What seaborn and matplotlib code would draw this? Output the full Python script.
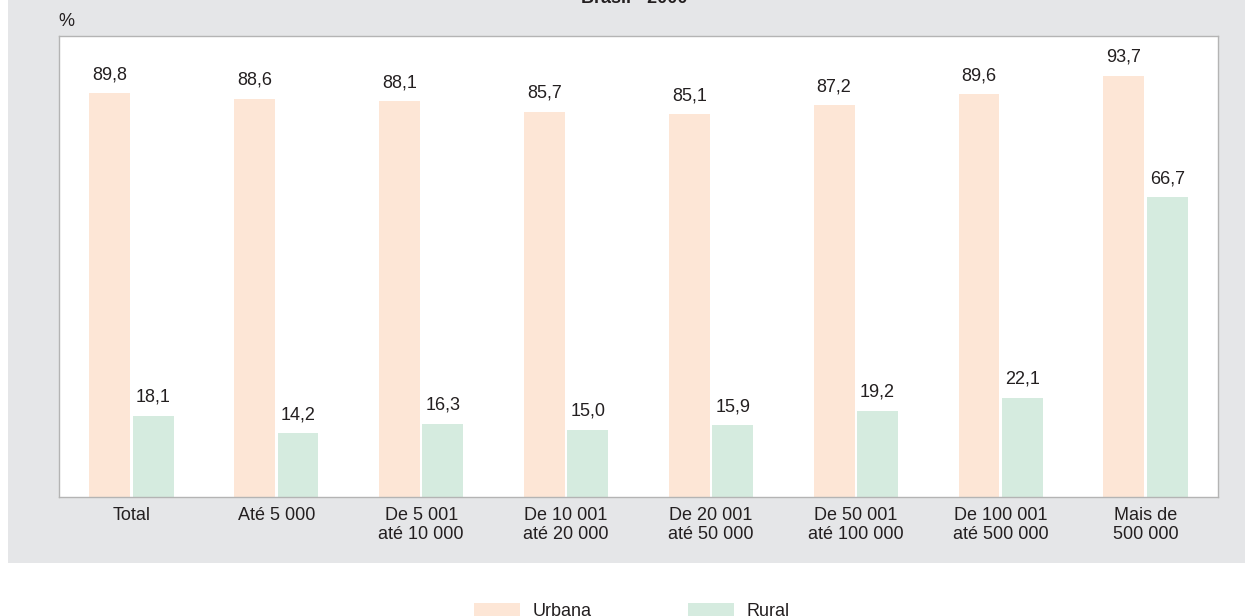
import pandas as pd
import matplotlib.pyplot as plt
import seaborn as sns
from matplotlib.patches import Rectangle, Patch

faixas = ["Total", "Até 5 000", "De 5 001\naté 10 000", "De 10 001\naté 20 000",
          "De 20 001\naté 50 000", "De 50 001\naté 100 000", "De 100 001\naté 500 000",
          "Mais de\n500 000"]
urbana = [89.8, 88.6, 88.1, 85.7, 85.1, 87.2, 89.6, 93.7]
rural = [18.1, 14.2, 16.3, 15.0, 15.9, 19.2, 22.1, 66.7]
tipos = ["Urbana", "Rural"]
cores = {"Urbana": "#fde6d6", "Rural": "#d5ebdf"}

df = pd.DataFrame({
    "faixa": faixas * 2,
    "valor": urbana + rural,
    "tipo": ["Urbana"] * len(faixas) + ["Rural"] * len(faixas),
})

sns.set_style("white")
plt.rcParams["font.family"] = ["Liberation Sans", "DejaVu Sans"]
text_color = "#231f20"
spine_color = "#b4b4b4"
fs = 13

fig = plt.figure(figsize=(12.45, 6.16), dpi=100)
# gray panel behind the chart
fig.patches.append(Rectangle((8 / 1245, 53 / 616), 1, 1, transform=fig.transFigure,
                             facecolor="#e5e6e8", edgecolor="none", zorder=-10))

ax = fig.add_axes([59 / 1245, 119 / 616, 1159 / 1245, 461 / 616])
ax.set_zorder(1)
sns.barplot(data=df, x="faixa", y="valor", hue="tipo", order=faixas, hue_order=tipos,
            palette=cores, saturation=1, width=0.6, gap=0.06, linewidth=0,
            legend=False, ax=ax)

for cont in ax.containers:
    ax.bar_label(cont, labels=[f"{v:.1f}".replace(".", ",") for v in cont.datavalues],
                 padding=7, fontsize=fs, color=text_color)

ax.set_xlim(-0.5, len(faixas) - 0.5)
ax.set_ylim(0, 102.5)
ax.set_xlabel("")
ax.set_ylabel("")
ax.set_yticks([])
ax.tick_params(axis="x", which="major", length=0, pad=7, labelsize=fs, labelcolor=text_color)
for lbl in ax.get_xticklabels():
    lbl.set_linespacing(1.18)
ax.set_xticks([i - 0.5 for i in range(len(faixas) + 1)], minor=True)
ax.tick_params(axis="x", which="minor", length=5, width=1, color=spine_color, direction="out")
for s in ax.spines.values():
    s.set_visible(True)
    s.set_color(spine_color)
    s.set_linewidth(1)
ax.set_facecolor("white")

fig.text(58 / 1245, 1 - 22 / 616, "%", fontsize=fs, color=text_color, va="center", ha="left")
fig.text(634 / 1245, 1 - 3 / 616, "Brasil - 2000", fontsize=fs, fontweight="bold",
         color=text_color, ha="center", va="baseline")

handles = [Patch(facecolor=cores[t], edgecolor="none", label=t) for t in tipos]
fig.legend(handles=handles, loc="center", bbox_to_anchor=(632 / 1245, 5 / 616), ncol=2,
           frameon=False, fontsize=fs, handlelength=2.55, handleheight=0.72,
           handletextpad=0.72, columnspacing=5.3, labelcolor=text_color)

fig.savefig("out.png", dpi=100)
